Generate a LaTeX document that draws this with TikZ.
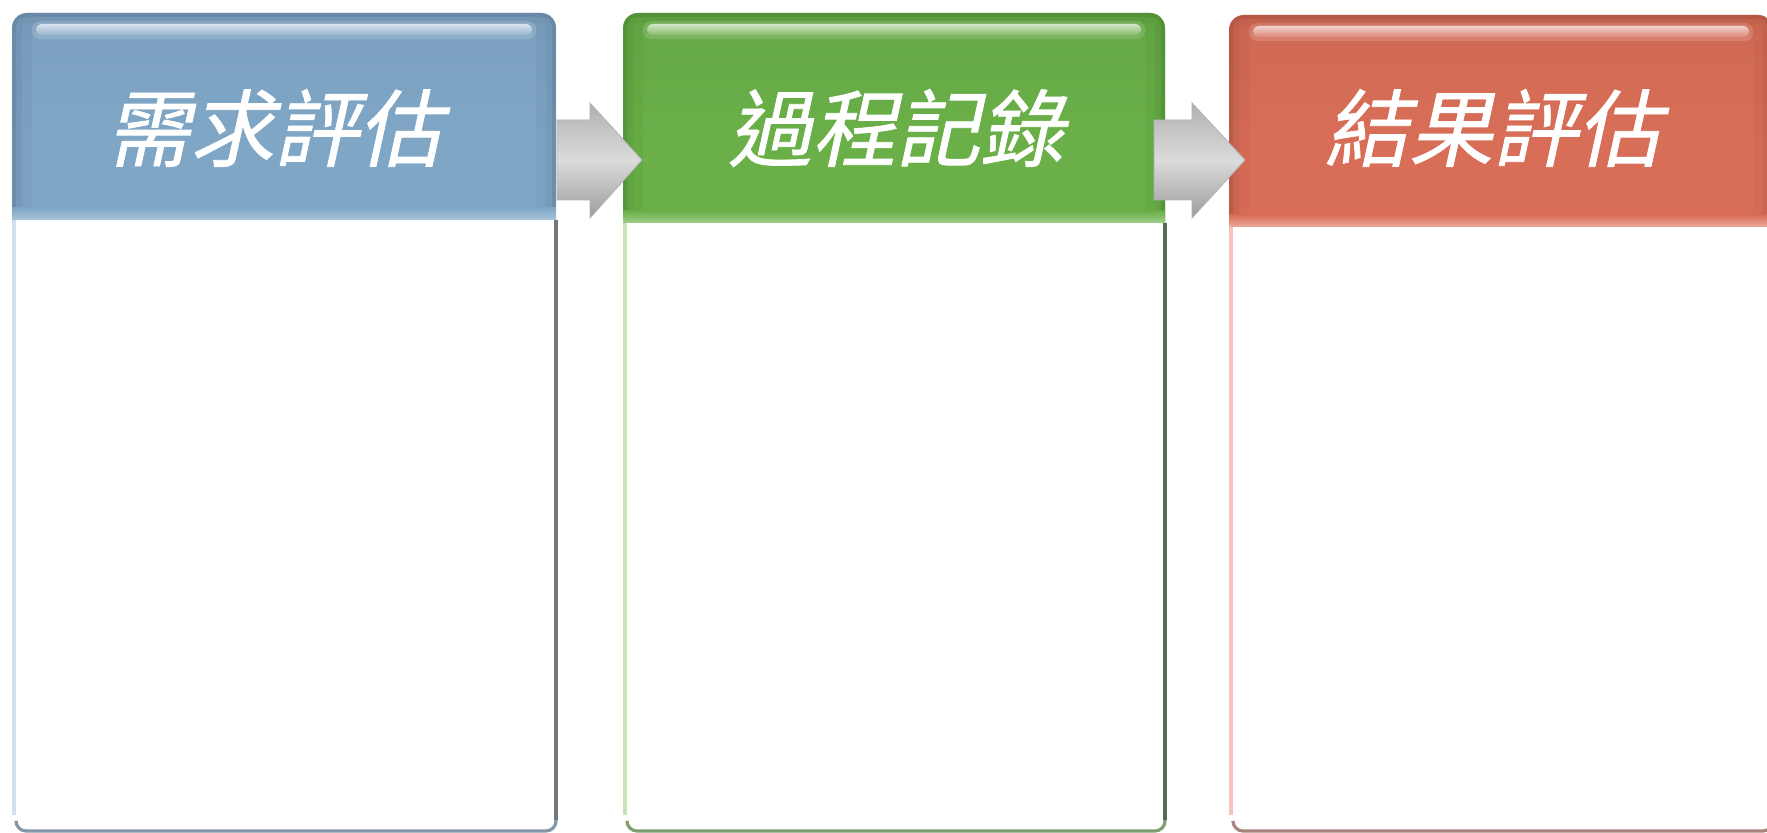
\documentclass[tikz,border=0pt]{standalone}
\usepackage{fontspec}
\newfontfamily\cjk[FakeSlant=0.22,FakeBold=0.9]{Noto Sans CJK TC}
\definecolor{bmain}{HTML}{80A6C6}\definecolor{bdark}{HTML}{5A7893}\definecolor{blight}{HTML}{A9C4DA}
\definecolor{bleft}{HTML}{D3E0EB}\definecolor{bright}{HTML}{72787E}\definecolor{bbot}{HTML}{8596A5}
\definecolor{gmain}{HTML}{6AAF48}\definecolor{gdark}{HTML}{467F2F}\definecolor{glight}{HTML}{A2CF8C}
\definecolor{gleft}{HTML}{C5E5B5}\definecolor{gright}{HTML}{556B4C}\definecolor{gbot}{HTML}{7F9D72}
\definecolor{rmain}{HTML}{D86E57}\definecolor{rdark}{HTML}{9E4C3C}\definecolor{rlight}{HTML}{EBAA9C}
\definecolor{rleft}{HTML}{F2C4BD}\definecolor{rright}{HTML}{7A5550}\definecolor{rbot}{HTML}{A8857F}
\tikzset{
  title/.style={font=\cjk\fontsize{42}{50}\selectfont, text=white, inner sep=0pt},
  arrowbody/.style={top color=gray!62, bottom color=gray!78, middle color=gray!28, draw=gray!60, line width=0.4pt}
}
\newcommand\panel[8]{%
  % body
  \fill[white] (#1,{#3+30}) rectangle (#2,831);
  \draw[#5left, line width=1.8] ({#1+2},#4) -- ({#1+2},815);
  \draw[#5bot, line width=1.6, rounded corners=5pt] ({#1+4},822) -- ({#1+4},831) -- (#2,831) -- (#2,#4);
  \draw[#5right, line width=1.8] (#2,#4) -- (#2,820);
  % header
  \begin{scope}
    \clip ({#1-5},{#3-5}) rectangle ({#2+5},#4);
    \clip[rounded corners=7.5pt] (#1,#3) rectangle (#2,{#4+40});
    \shade[top color=#5main!85!#5dark, bottom color=#5main, middle color=#5main] (#1,#3) rectangle (#2,{#4+40});
    \draw[#5dark, line width=20, opacity=0.10, rounded corners=7.5pt] (#1,#3) rectangle (#2,{#4+40});
    \draw[#5dark, line width=10, opacity=0.16, rounded corners=7.5pt] (#1,#3) rectangle (#2,{#4+40});
    \draw[#5dark, line width=4, opacity=0.35, rounded corners=7.5pt] (#1,#3) rectangle (#2,{#4+40});
    \shade[top color=#5main, bottom color=#5light] (#1,{#4-12}) rectangle (#2,#4);
    \fill[white, opacity=0.15, rounded corners=4pt] ({#1+20},{#3+8}) rectangle ({#2-20},{#3+26});
    \shade[top color=white!85!#5main, bottom color=#5main!80!white, opacity=0.8, rounded corners=3pt] ({#1+24},{#3+11}) rectangle ({#2-24},{#3+22});
  \end{scope}
  \node[title] (#6) at ({(#1+#2)/2+#8},128) {#7};
}
\begin{document}
\begin{tikzpicture}[x=0.5pt,y=-0.5pt]
\useasboundingbox (0,0) rectangle (1767,833);
\clip (0,0) rectangle (1767,833);
\fill[white] (0,0) rectangle (1767,833);
\panel{12}{556}{13}{220}{b}{h1}{需求評估}{-10}
\panel{623}{1165}{13}{223}{g}{h2}{過程記錄}{2}
\panel{1229}{1773}{15}{227}{r}{h3}{結果評估}{-8}
% arrows
\coordinate (a1) at (557,160);
\coordinate (a2) at (1154,160);
\shade[arrowbody] (a1) ++(0,-40) -- ++(33,0) -- ++(0,-17) -- ++(52,57) -- ++(-52,58) -- ++(0,-18) -- ++(-33,0) -- cycle;
\shade[arrowbody] (a2) ++(0,-40) -- ++(38,0) -- ++(0,-17) -- ++(53,57) -- ++(-53,58) -- ++(0,-18) -- ++(-38,0) -- cycle;
\end{tikzpicture}
\end{document}
